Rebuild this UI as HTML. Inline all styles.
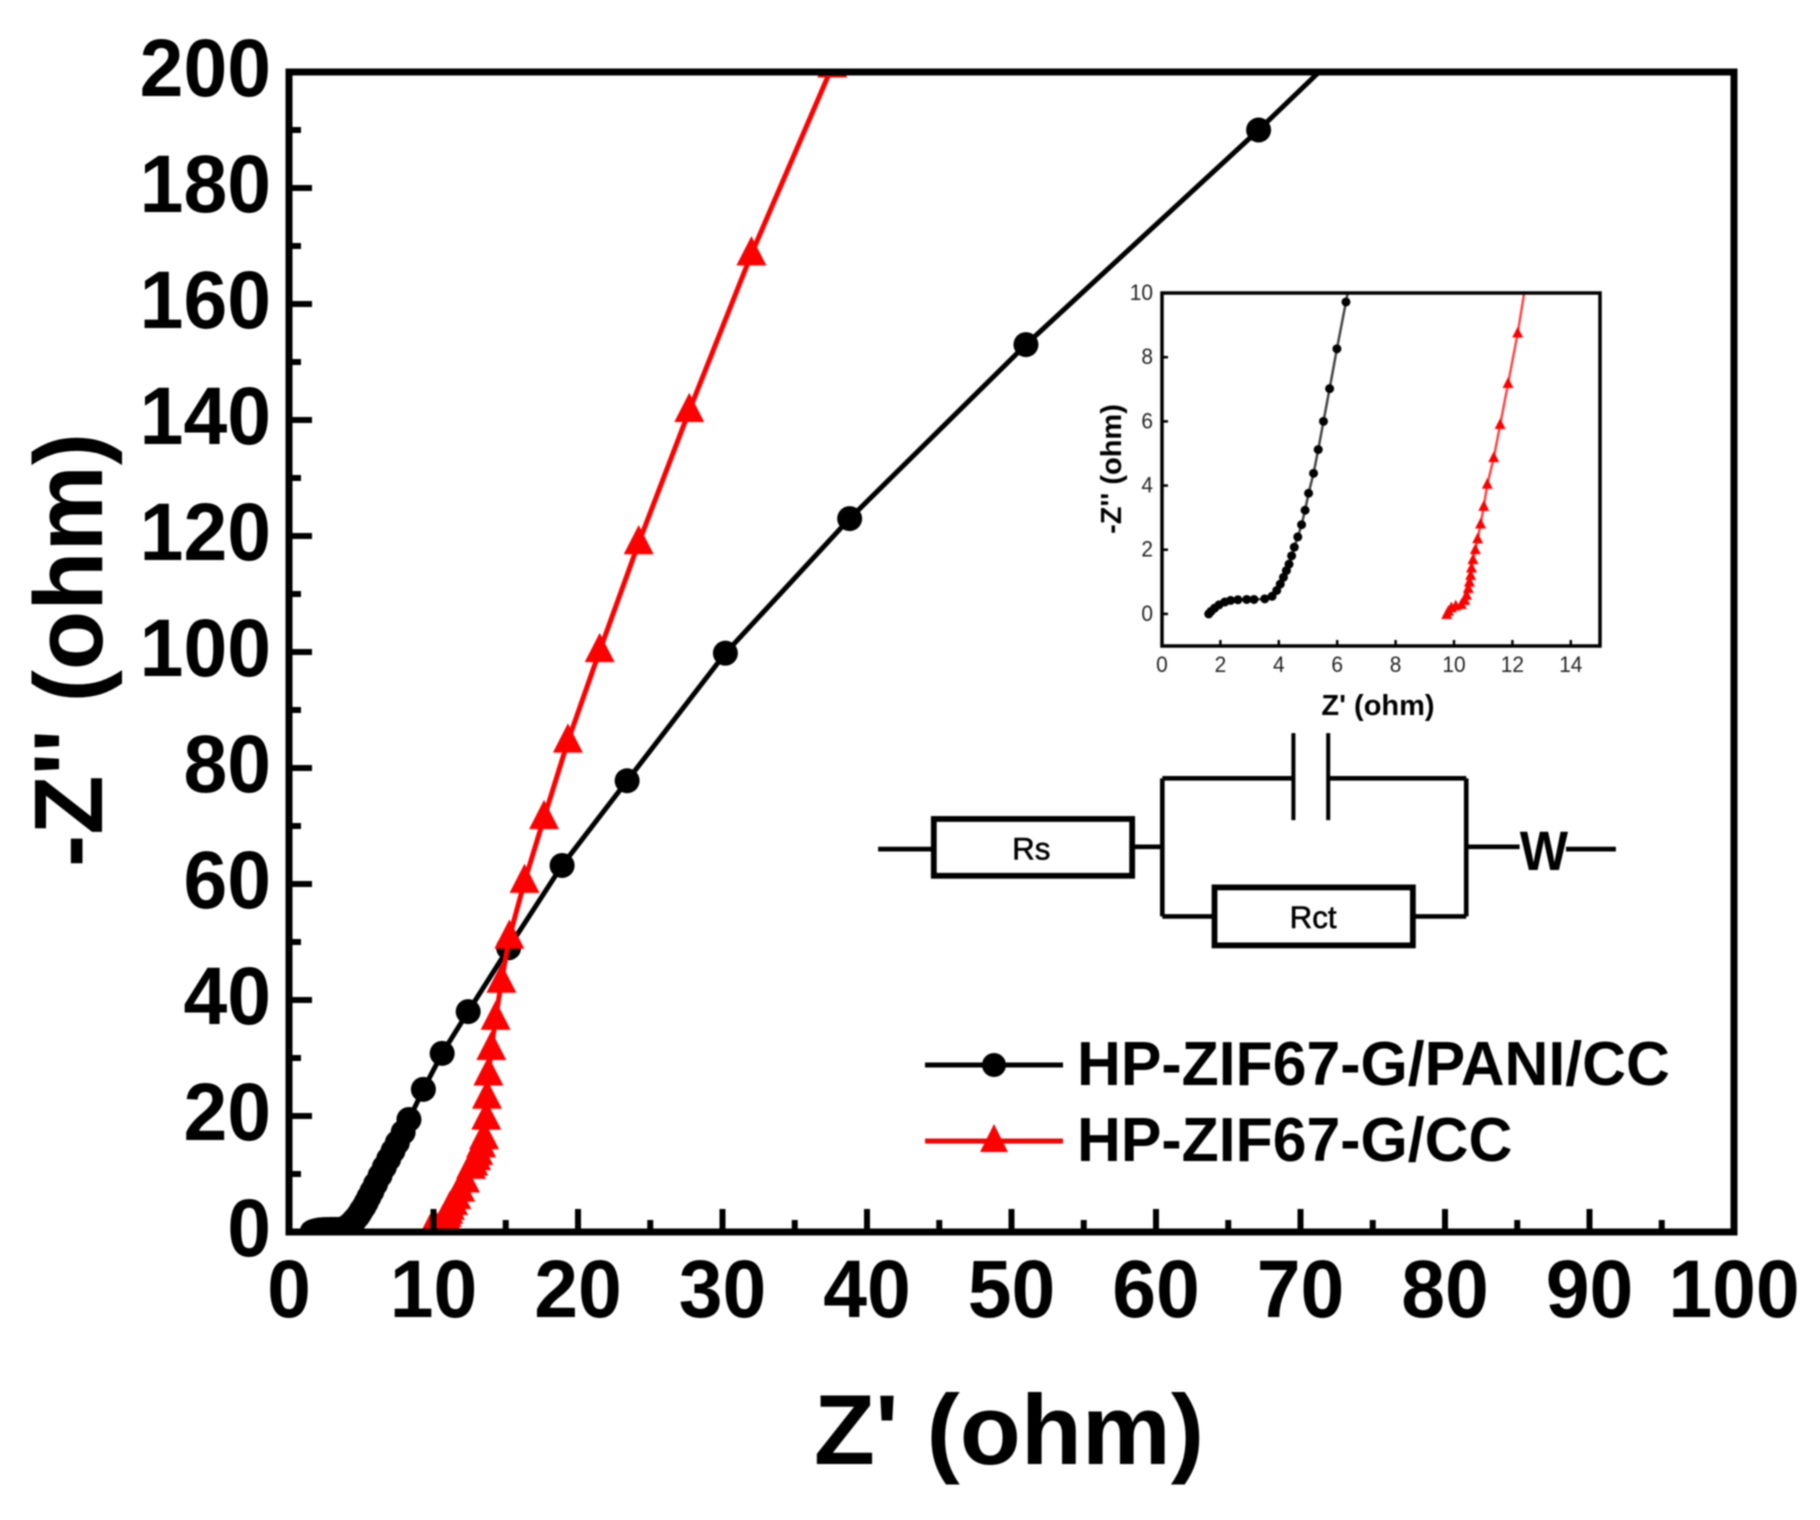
<!DOCTYPE html>
<html lang="en">
<head>
<meta charset="utf-8">
<title>Nyquist plot</title>
<style>
html,body{margin:0;padding:0;background:#fff;width:1820px;height:1520px;overflow:hidden}
svg{display:block;filter:blur(.9px)}
text{font-family:"Liberation Sans",Arial,sans-serif;fill:#000}
</style>
</head>
<body>
<svg id="chart" xmlns="http://www.w3.org/2000/svg" width="1820" height="1520" viewBox="0 0 1820 1520">
  <defs>
    <clipPath id="main-clip"><rect x="289" y="72" width="1445" height="1160"/></clipPath>
    <clipPath id="inset-clip"><rect x="1162" y="293" width="438" height="353"/></clipPath>
  </defs>
  <rect width="1820" height="1520" fill="#fff"/>
  <g id="main-series" clip-path="url(#main-clip)"></g>
  <g id="main-axes"></g>
  <text x="70" y="650" transform="rotate(-90 70 650)" dy="32" text-anchor="middle" font-size="97" font-weight="700">-Z'' (ohm)</text>
  <text transform="translate(1009 1464) scale(1.01 1)" text-anchor="middle" font-size="99" font-weight="700">Z' (ohm)</text>

  <g id="inset-series" clip-path="url(#inset-clip)"></g>
  <g id="inset-axes"></g>
  <text x="1378" y="715" text-anchor="middle" font-size="29" font-weight="700" fill="#222">Z' (ohm)</text>
  <text x="1121" y="469" transform="rotate(-90 1121 469)" text-anchor="middle" font-size="29" font-weight="700" fill="#222">-Z'' (ohm)</text>

  <g transform="scale(1.16)" fill="none" stroke="#000" stroke-width="4">
    <path d="M757 732H805"/>
    <rect x="805" y="706" width="171" height="49" stroke-width="5"/>
    <path d="M976 730H1002M1002 671V790M1002 671H1115M1145 671H1264M1264 671V790M1002 790H1047M1218 790H1264M1264 730H1310M1350 732H1393"/>
    <path d="M1115 632V707M1145 632V707" stroke-width="3.5"/>
    <rect x="1047" y="765" width="171" height="50" stroke-width="5"/>
    <text x="889" y="741" text-anchor="middle" font-size="27" stroke="#000" stroke-width=".5">Rs</text>
    <text x="1132" y="800" text-anchor="middle" font-size="27" stroke="#000" stroke-width=".5">Rct</text>
    <text transform="translate(1331 750) scale(.92 1)" text-anchor="middle" font-size="48" font-weight="700" stroke="none">W</text>
  </g>

  <g>
    <g>
      <path d="M925 1065H1063" stroke="#000" stroke-width="5"/>
      <circle cx="994" cy="1065" r="12" fill="#000"/>
      <text transform="translate(1077 1085) scale(.98 1)" font-size="62" font-weight="700">HP-ZIF67-G/PANI/CC</text>
    </g>
    <g>
      <path d="M925 1141H1063" stroke="#f00" stroke-width="5"/>
      <polygon points="994,1124 1008,1152 980,1152" fill="#f00"/>
      <text transform="translate(1077 1161) scale(.98 1)" font-size="62" font-weight="700">HP-ZIF67-G/CC</text>
    </g>
  </g>
</svg>
<script>
const xTickLabels = [0,10,20,30,40,50,60,70,80,90,100];
const yTickLabels = [0,20,40,60,80,100,120,140,160,180,200];
const insetXTickLabels = [0,2,4,6,8,10,12,14];
const insetYTickLabels = [0,2,4,6,8,10];

const blackZre = [1.6,1.68,1.8,1.95,2.15,2.35,2.6,2.9,3.15,3.52,3.77,3.93,4.05,4.16,4.26,4.35,4.44,4.53,4.65,4.78,4.9,5.02,5.19,5.35,5.53,5.74,5.99,6.3,6.6,6.9,7.2,7.5,7.9,8.3,9.3,10.6,12.4,15.2,18.9,23.4,30.2,38.8,51.0,67.1,84.5];
const blackZim = [0,0.08,0.18,0.28,0.37,0.42,0.44,0.45,0.45,0.47,0.55,0.73,0.93,1.14,1.35,1.55,1.81,2.08,2.4,2.78,3.23,3.76,4.38,5.12,6.0,7.02,8.26,9.72,11.2,12.6,14,15.4,17.2,19.4,24.6,30.8,38,49,63.2,77.8,99.8,123,153,190,231.6];

const redZre = [9.75,9.81,9.91,10.06,10.25,10.37,10.43,10.49,10.53,10.57,10.6,10.65,10.73,10.81,10.91,11.02,11.14,11.36,11.58,11.85,12.18,12.6,12.75,12.95,13.1,13.3,13.5,13.65,13.7,13.8,14,14.3,14.7,15.25,16.3,17.65,19.3,21.5,24.2,27.7,32.0,37.6];
const redZim = [-0.03,0.07,0.18,0.24,0.28,0.41,0.57,0.78,0.98,1.19,1.42,1.68,1.99,2.33,2.79,3.34,4.03,4.86,5.89,7.17,8.74,11.1,11.7,12.6,13.5,14.8,16.2,19.6,23.2,27.2,31.6,36.8,43.2,50.8,60.4,71.4,84.6,100.2,118.8,141.6,168.6,201];

const NS = 'http://www.w3.org/2000/svg';
const mainX = v => 289 + (v / 100) * 1445;
const mainY = v => 1232 - (v / 200) * 1160;
const insetX = v => 1162 + (v / 15) * 438;
const insetY = v => 646 - ((v + 1) / 11) * 353;

function make(tag, parent, props, text) {
  const el = document.createElementNS(NS, tag);
  for (const k in props) el.setAttribute(k, props[k]);
  if (text !== undefined) el.textContent = text;
  parent.appendChild(el);
  return el;
}

function drawSeries(parent, xs, ys, sx, sy, color, lineColor, lineW, shape, size, label) {
  const pts = xs.map((x, i) => sx(x).toFixed(2) + ',' + sy(ys[i]).toFixed(2)).join(' ');
  const line = make('polyline', parent, {points: pts, fill: 'none', stroke: lineColor, 'stroke-width': lineW, 'stroke-linejoin': 'round'});
  
  
  xs.forEach((x, i) => {
    const px = sx(x), py = sy(ys[i]);
    let m;
    if (shape === 'circle') {
      m = make('circle', parent, {cx: px, cy: py, r: size, fill: color});
    } else {
      m = make('polygon', parent, {
        points: `${px},${py - size * 1.2} ${px + size},${py + size * 0.75} ${px - size},${py + size * 0.75}`,
        fill: color
      });
    }
    
    
  });
}

function drawAxes(parent, o) {
  const frame = make('rect', parent, {x: o.sx(o.x0), y: o.sy(o.y1), width: o.sx(o.x1) - o.sx(o.x0), height: o.sy(o.y0) - o.sy(o.y1), fill: 'none', stroke: o.color, 'stroke-width': o.frameW});
  
  

  o.xTicks.forEach(v => {
    const px = o.sx(v);
    const t = make('line', parent, {x1: px, x2: px, y1: o.sy(o.y0), y2: o.sy(o.y0) - o.major, stroke: o.color, 'stroke-width': o.tickW});
    
    
    const l = make('text', parent, {transform: `translate(${px} ${o.xLabelY}) scale(${o.squeeze} 1)`, 'text-anchor': 'middle', 'font-size': o.font, 'font-weight': o.weight, style: 'fill:' + o.textColor}, v);
    
    
  });
  o.yTicks.forEach(v => {
    const py = o.sy(v);
    const t = make('line', parent, {x1: o.sx(o.x0), x2: o.sx(o.x0) + o.major, y1: py, y2: py, stroke: o.color, 'stroke-width': o.tickW});
    
    
    const l = make('text', parent, {transform: `translate(${o.yLabelX} ${py + o.yLabelDy}) scale(${o.squeeze} 1)`, 'text-anchor': 'end', 'font-size': o.font, 'font-weight': o.weight, style: 'fill:' + o.textColor}, v);
    
    
  });
  if (o.minor) {
    o.xTicks.slice(0, -1).forEach((v, i) => {
      const mid = (v + o.xTicks[i + 1]) / 2;
      const t = make('line', parent, {x1: o.sx(mid), x2: o.sx(mid), y1: o.sy(o.y0), y2: o.sy(o.y0) - o.minor, stroke: o.color, 'stroke-width': o.tickW});
      
      
    });
    o.yTicks.slice(0, -1).forEach((v, i) => {
      const mid = (v + o.yTicks[i + 1]) / 2;
      const t = make('line', parent, {x1: o.sx(o.x0), x2: o.sx(o.x0) + o.minor, y1: o.sy(mid), y2: o.sy(mid), stroke: o.color, 'stroke-width': o.tickW});
      
      
    });
  }
}

const mainG = document.getElementById('main-series');
drawSeries(mainG, blackZre, blackZim, mainX, mainY, '#000', '#000', 5, 'circle', 12.5, 'black-series');
drawSeries(mainG, redZre, redZim, mainX, mainY, '#f00', '#f00', 5, 'triangle', 15, 'red-series');

drawAxes(document.getElementById('main-axes'), {
  sx: mainX, sy: mainY, x0: 0, x1: 100, y0: 0, y1: 200,
  xTicks: xTickLabels, yTicks: yTickLabels,
  color: '#000', textColor: '#000', frameW: 7, tickW: 6, major: 23, minor: 12,
  font: 82, weight: 700, squeeze: 0.96, xLabelY: 1317, yLabelX: 271, yLabelDy: 24, prefix: 'main-'
});

const insetG = document.getElementById('inset-series');
drawSeries(insetG, blackZre, blackZim, insetX, insetY, '#000', '#444', 2.5, 'circle', 4.5, 'inset-black-series');
drawSeries(insetG, redZre, redZim, insetX, insetY, '#f00', '#f44', 2.5, 'triangle', 5.5, 'inset-red-series');

drawAxes(document.getElementById('inset-axes'), {
  sx: insetX, sy: insetY, x0: 0, x1: 15, y0: -1, y1: 10,
  xTicks: insetXTickLabels, yTicks: insetYTickLabels,
  color: '#000', textColor: '#222', frameW: 3.5, tickW: 2.5, major: 6, minor: 0,
  font: 22, weight: 400, squeeze: 0.95, xLabelY: 672, yLabelX: 1153, yLabelDy: 7, prefix: 'inset-'
});
</script>
</body>
</html>
